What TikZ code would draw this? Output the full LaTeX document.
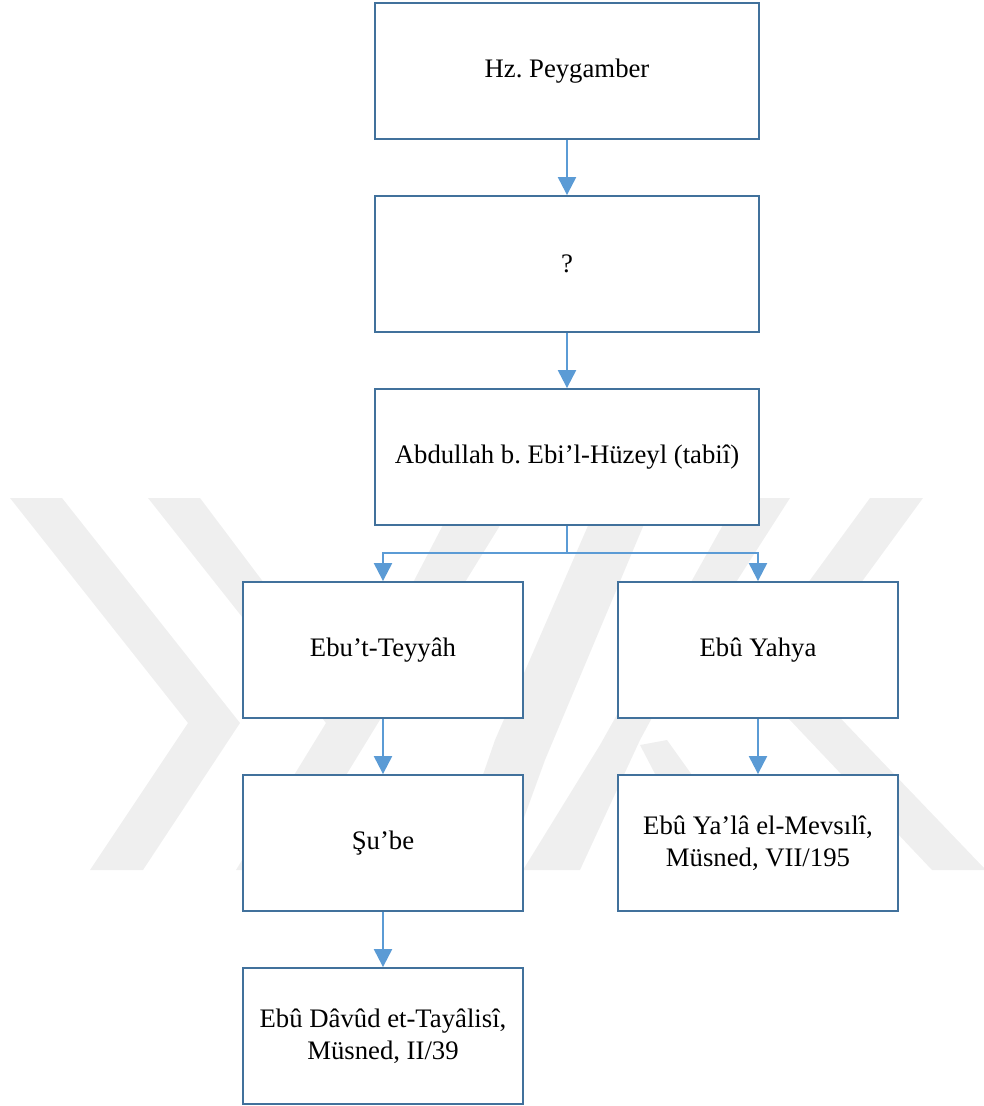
\documentclass[tikz,border=0pt]{standalone}
\usepackage{fontspec}
\setmainfont{Liberation Serif}
\usepackage{xcolor}
\usepackage{tikz}
\usetikzlibrary{positioning,arrows.meta,calc}
\frenchspacing

\definecolor{boxblue}{HTML}{41719C}
\definecolor{linkblue}{HTML}{5B9BD5}
\definecolor{wmgray}{HTML}{EFEFEF}

\tikzset{
    chainbox/.style={draw=boxblue, line width=1.3pt, fill=white, inner sep=0pt,
        minimum width=9.6cm, minimum height=3.4cm, align=center,
        font=\fontsize{19}{23}\selectfont},
    smallbox/.style={chainbox, minimum width=7cm},
    link/.style={draw=linkblue, line width=1.6pt},
    linkarrow/.style={link, -{Triangle[width=0.45cm,length=0.45cm]}}
}

\begin{document}
\begin{tikzpicture}[x=0.025cm, y=-0.025cm]
    \useasboundingbox (0,0) rectangle (984,1106);

    % Faint watermark behind the chart
    \fill[wmgray] (10,498) -- (62,498) -- (240,723) -- (143,870) -- (90,870) -- (188,723) -- cycle;
    \fill[wmgray] (148,498) -- (200,498) -- (352,700) -- (457,498) -- (517,498) -- (378,723)
        -- (288,870) -- (236,870) -- (326,723) -- cycle;
    \fill[wmgray] (600,498) -- (655,498) -- (545,760) -- (505,870) -- (450,870) -- (495,740) -- cycle;
    \fill[wmgray] (738,498) -- (790,498) -- (667,690) -- (640,740) -- (580,870) -- (523,870)
        -- (600,745) -- cycle;
    \fill[wmgray] (640,745) -- (667,740) -- (760,870) -- (705,870) -- cycle;
    \fill[wmgray] (870,498) -- (923,498) -- (790,680) -- (737,680) -- cycle;
    \fill[wmgray] (771,700) -- (823,700) -- (984,868) -- (984,870) -- (932,870) -- cycle;

    % Chain of narrators
    \node[chainbox] (prophet) at (567,71) {Hz. Peygamber};
    \node[chainbox] (unknown) at (567,264) {?};
    \node[chainbox] (abdullah) at (567,457) {Abdullah b. Ebi’l-Hüzeyl (tabiî)};

    \node[smallbox] (teyyah) at (383,650) {Ebu’t-Teyyâh};
    \node[smallbox] (yahya) at (758,650) {Ebû Yahya};
    \node[smallbox] (shube) at (383,843) {Şu’be};
    \node[smallbox] (mevsili) at (758,843) {Ebû Ya’lâ el-Mevsılî,\\Müsned, VII/195};
    \node[smallbox] (tayalisi) at (383,1036) {Ebû Dâvûd et-Tayâlisî,\\Müsned, II/39};

    % Arrows
    \draw[linkarrow] (prophet) -- (unknown);
    \draw[linkarrow] (unknown) -- (abdullah);

    \coordinate (fork) at (567,553);
    \draw[link] (abdullah.south) -- (fork);
    \draw[linkarrow] (fork) -| (teyyah.north);
    \draw[linkarrow] (fork) -| (yahya.north);

    \draw[linkarrow] (teyyah) -- (shube);
    \draw[linkarrow] (yahya) -- (mevsili);
    \draw[linkarrow] (shube) -- (tayalisi);
\end{tikzpicture}
\end{document}
